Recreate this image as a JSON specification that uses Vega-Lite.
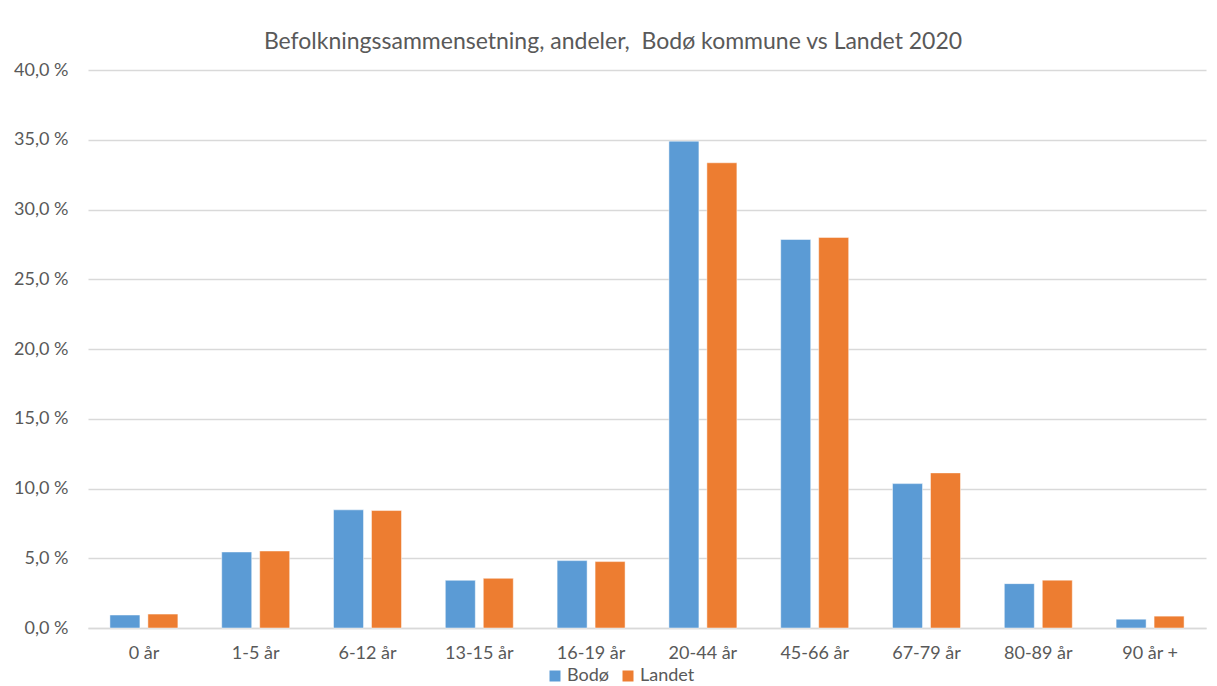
{
  "$schema": "https://vega.github.io/schema/vega-lite/v6.json",
  "width": 1118,
  "height": 558,
  "padding": {"left": 88, "top": 70, "right": 11, "bottom": 58},
  "autosize": {"type": "none"},
  "background": "white",
  "title": {
    "text": "Befolkningssammensetning, andeler,\u00a0 Bodø kommune vs Landet 2020",
    "font": "Lato",
    "fontSize": 23,
    "fontWeight": "normal",
    "color": "#595959",
    "anchor": "middle",
    "frame": "group",
    "dx": -34,
    "offset": 7
  },
  "data": {
    "values": [
      {"alder": "0 år", "serie": "Bodø", "andel": 0.93},
      {"alder": "0 år", "serie": "Landet", "andel": 1.0},
      {"alder": "1-5 år", "serie": "Bodø", "andel": 5.45},
      {"alder": "1-5 år", "serie": "Landet", "andel": 5.52},
      {"alder": "6-12 år", "serie": "Bodø", "andel": 8.47},
      {"alder": "6-12 år", "serie": "Landet", "andel": 8.42},
      {"alder": "13-15 år", "serie": "Bodø", "andel": 3.42},
      {"alder": "13-15 år", "serie": "Landet", "andel": 3.56},
      {"alder": "16-19 år", "serie": "Bodø", "andel": 4.83},
      {"alder": "16-19 år", "serie": "Landet", "andel": 4.76},
      {"alder": "20-44 år", "serie": "Bodø", "andel": 34.9},
      {"alder": "20-44 år", "serie": "Landet", "andel": 33.35},
      {"alder": "45-66 år", "serie": "Bodø", "andel": 27.85},
      {"alder": "45-66 år", "serie": "Landet", "andel": 28.0},
      {"alder": "67-79 år", "serie": "Bodø", "andel": 10.35},
      {"alder": "67-79 år", "serie": "Landet", "andel": 11.12},
      {"alder": "80-89 år", "serie": "Bodø", "andel": 3.18},
      {"alder": "80-89 år", "serie": "Landet", "andel": 3.43},
      {"alder": "90 år +", "serie": "Bodø", "andel": 0.63},
      {"alder": "90 år +", "serie": "Landet", "andel": 0.85}
    ]
  },
  "mark": {"type": "bar", "stroke": "white", "strokeWidth": 0.8, "strokeOpacity": 0.6},
  "encoding": {
    "x": {
      "field": "alder",
      "type": "nominal",
      "sort": null,
      "scale": {"paddingInner": 0.392, "paddingOuter": 0.196},
      "axis": {
        "title": null,
        "labelAngle": 0,
        "labelFont": "Lato",
        "labelFontSize": 18,
        "labelColor": "#595959",
        "labelPadding": 16,
        "ticks": false,
        "domainColor": "#D9D9D9",
        "domainWidth": 1.5,
        "grid": false
      }
    },
    "xOffset": {
      "field": "serie",
      "type": "nominal",
      "scale": {"paddingInner": 0.21, "paddingOuter": 0}
    },
    "y": {
      "field": "andel",
      "type": "quantitative",
      "scale": {"domain": [0, 40], "nice": false},
      "axis": {
        "title": null,
        "values": [0, 5, 10, 15, 20, 25, 30, 35, 40],
        "labelExpr": "replace(format(datum.value, '.1f'), '.', ',') + ' %'",
        "labelFont": "Lato",
        "labelFontSize": 18,
        "labelColor": "#595959",
        "labelPadding": 20,
        "ticks": false,
        "domain": false,
        "grid": true,
        "gridColor": "#D9D9D9",
        "gridWidth": 1.5
      }
    },
    "color": {
      "field": "serie",
      "type": "nominal",
      "scale": {"domain": ["Bodø", "Landet"], "range": ["#5B9BD5", "#ED7D31"]},
      "legend": {
        "title": null,
        "orient": "none",
        "direction": "horizontal",
        "legendX": 458,
        "legendY": 597,
        "symbolType": "square",
        "symbolSize": 121,
        "symbolStrokeWidth": 0,
        "labelFont": "Lato",
        "labelFontSize": 18,
        "labelColor": "#595959",
        "labelOffset": 3,
        "columnPadding": 10
      }
    }
  },
  "config": {
    "view": {"stroke": null}
  }
}
